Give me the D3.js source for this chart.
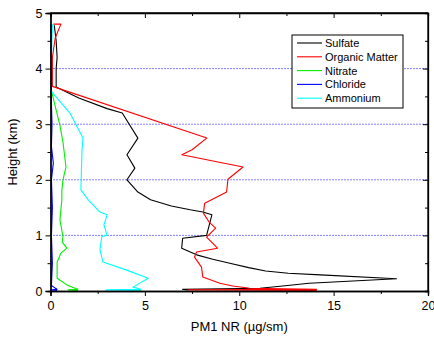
<!DOCTYPE html>
<html><head><meta charset="utf-8">
<script src="https://cdn.jsdelivr.net/npm/d3@7"></script>
<style>body{margin:0;background:#fff}svg{display:block;font-family:"Liberation Sans",Arial,sans-serif}</style>
</head><body><svg id="c" width="434" height="338"></svg>
<script>
// [concentration (µg/sm), height (km)]
const sulfate = [[0.2,4.78],[0.3,4.5],[0.35,4.2],[0.3,4.0],[0.3,3.67],[1.5,3.47],[3.0,3.28],[3.8,3.2],[4.63,2.75],[4.05,2.45],[4.47,2.21],[4.05,2.0],[4.63,1.78],[5.3,1.64],[6.4,1.53],[7.4,1.46],[8.07,1.42],[8.55,1.37],[8.27,1.0],[7.0,0.95],[6.95,0.77],[7.74,0.65],[8.6,0.57],[9.5,0.5],[10.5,0.42],[11.4,0.36],[12.6,0.32],[14.3,0.29],[18.33,0.22],[13.7,0.14],[12.3,0.09],[11.1,0.05],[7.0,0.03],[7.3,0.02]];
const organic = [[0.15,4.8],[0.55,4.8],[0.25,4.55],[0.1,4.2],[0.1,3.68],[8.28,2.75],[7.5,2.54],[6.96,2.45],[10.2,2.23],[9.4,2.01],[9.33,1.78],[8.17,1.58],[8.1,1.4],[8.4,1.24],[8.75,1.13],[8.27,0.97],[8.85,0.77],[7.74,0.7],[7.63,0.61],[8.0,0.43],[8.07,0.25],[8.97,0.14],[9.66,0.09],[10.55,0.05],[14.1,0.03],[7.3,0.02],[14.1,0.01]];
const nitrate = [[0.05,4.8],[0.05,4.2],[0.05,3.6],[0.34,3.2],[0.5,2.98],[0.66,2.68],[0.82,2.23],[0.66,2.0],[0.6,1.8],[0.6,1.64],[0.5,1.28],[0.66,0.98],[0.62,0.88],[0.87,0.77],[0.55,0.68],[0.35,0.52],[0.35,0.23],[0.87,0.11],[1.3,0.05],[1.45,0.03],[0.93,0.02],[1.45,0.01]];
const chloride = [[0.02,4.8],[0.05,4.0],[0.03,3.6],[0.08,3.0],[0.05,2.6],[0.15,2.3],[0.05,2.0],[0.1,1.5],[0.05,1.0],[0.1,0.5],[0.05,0.1],[0.35,0.03],[0.0,0.02],[0.35,0.01]];
const ammonium = [[0.1,4.8],[0.05,4.2],[0.02,3.6],[1.03,3.2],[1.72,2.75],[1.67,2.54],[1.61,1.82],[2.0,1.64],[2.62,1.42],[3.0,1.37],[2.83,1.19],[3.0,1.0],[2.72,0.98],[2.62,0.74],[2.78,0.52],[4.0,0.38],[5.17,0.23],[4.37,0.07],[4.79,0.03],[2.94,0.02],[4.79,0.01]];
const seriesNames = ["Sulfate","Organic Matter","Nitrate","Chloride","Ammonium"];
const seriesColors = ["#000000","#ff0000","#00ee00","#0000ff","#00ffff"];
const xTicks = [0,5,10,15,20];
const yTicks = [0,1,2,3,4,5];
const gridHeights = [1,2,3,4];
const xLabel = "PM1 NR (µg/sm)";
const yLabel = "Height (km)";

const seriesData = [sulfate, organic, nitrate, chloride, ammonium];
const svg = d3.select("#c");
const L = 50.5, R = 428, T = 13, B = 291;
const x = d3.scaleLinear().domain([0,20]).range([L,R]);
const y = d3.scaleLinear().domain([0,5]).range([B,T]);

// grid
svg.append("g").selectAll("line").data(gridHeights).join("line")
  .attr("x1",L).attr("x2",R).attr("y1",d=>y(d)).attr("y2",d=>y(d))
  .attr("stroke","#0000ff").attr("stroke-width",1).attr("stroke-dasharray","1,2");

// legend box drawn before lines (covers grid)
const lg = svg.append("g");
lg.append("rect").attr("x",292).attr("y",35).attr("width",111).attr("height",73)
  .attr("fill","#fff").attr("stroke","#000").attr("stroke-width",1);

// lines
const line = d3.line().x(d=>x(d[0])).y(d=>y(d[1]));
svg.append("g").selectAll("path").data(seriesData).join("path")
  .attr("d",line).attr("fill","none")
  .attr("stroke",(d,i)=>seriesColors[i]).attr("stroke-width",1.1).attr("stroke-linejoin","round");

// legend entries
seriesNames.forEach((n,i)=>{
  const yy = 43 + i*13.8;
  lg.append("line").attr("x1",297).attr("x2",322).attr("y1",yy).attr("y2",yy)
    .attr("stroke",seriesColors[i]).attr("stroke-width",1.1);
  lg.append("text").attr("x",325).attr("y",yy+4).attr("font-size",11).text(n);
});

// axes
const minorX = d3.range(2.5,20,5), minorY = d3.range(0.5,5,1);
const axB = svg.append("g").attr("transform",`translate(0,${B})`)
  .call(d3.axisBottom(x).tickValues(xTicks).tickSize(5).tickPadding(5).tickFormat(d3.format("d")));
const axL = svg.append("g").attr("transform",`translate(${L},0)`)
  .call(d3.axisLeft(y).tickValues(yTicks).tickSize(5).tickPadding(3).tickFormat(d3.format("d")));
const axT = svg.append("g").attr("transform",`translate(0,${T})`)
  .call(d3.axisBottom(x).tickValues(xTicks).tickSize(5).tickFormat(""));
const axR = svg.append("g").attr("transform",`translate(${R},0)`)
  .call(d3.axisRight(y).tickValues(yTicks).tickSize(-5).tickFormat(""));
svg.append("g").attr("transform",`translate(0,${B})`).call(d3.axisBottom(x).tickValues(minorX).tickSize(3).tickFormat(""));
svg.append("g").attr("transform",`translate(${L},0)`).call(d3.axisLeft(y).tickValues(minorY).tickSize(3).tickFormat(""));
svg.append("g").attr("transform",`translate(0,${T})`).call(d3.axisBottom(x).tickValues(minorX).tickSize(3).tickFormat(""));
svg.append("g").attr("transform",`translate(${R},0)`).call(d3.axisLeft(y).tickValues(minorY).tickSize(3).tickFormat(""));
svg.selectAll(".domain").attr("stroke","#000").attr("stroke-width",1.3);
svg.selectAll(".tick line").attr("stroke","#000").attr("stroke-width",1);
svg.selectAll(".tick text").attr("font-size",12.5).attr("font-family","Liberation Sans, Arial, sans-serif").attr("fill","#000");
axT.select(".domain").attr("d",`M${L},0H${R}`);
axR.select(".domain").attr("d",`M0,${T}V${B}`);

svg.append("text").attr("x",(L+R)/2).attr("y",331).attr("text-anchor","middle")
  .attr("font-size",13).text(xLabel);
svg.append("text").attr("transform",`translate(17,${(T+B)/2}) rotate(-90)`).attr("text-anchor","middle")
  .attr("font-size",13).text(yLabel);
</script></body></html>
